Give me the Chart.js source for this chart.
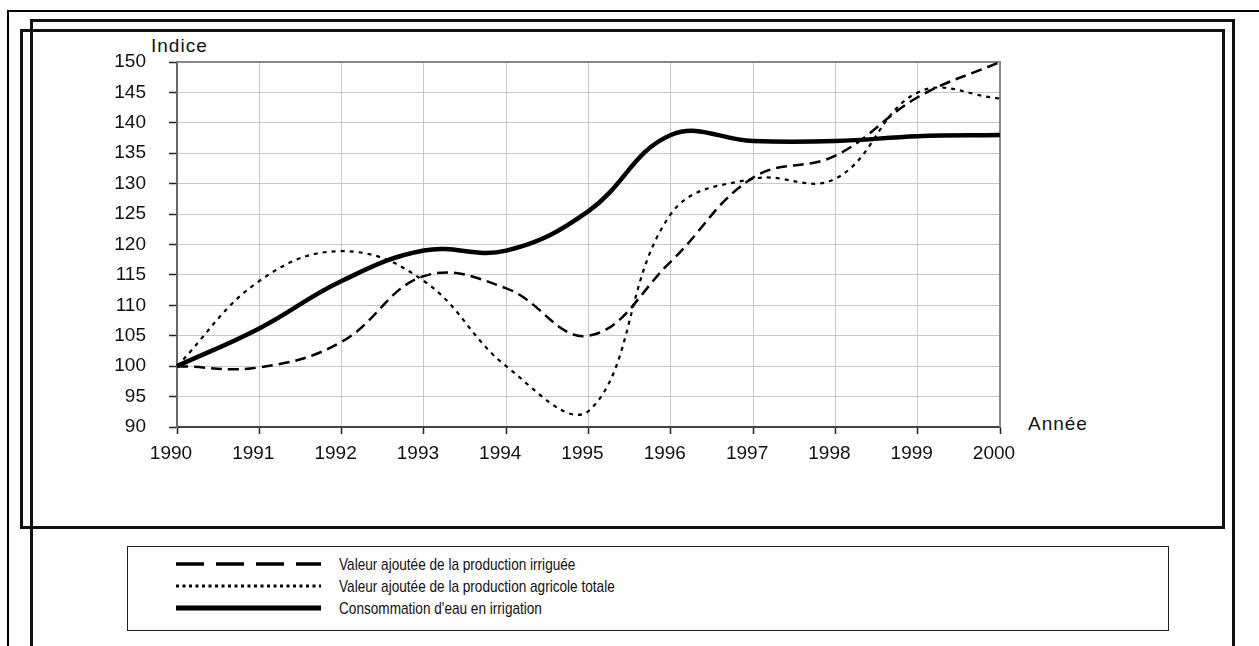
<!DOCTYPE html>
<html lang="fr">
<head>
  <meta charset="UTF-8" />
  <title>Indice - valeur ajoutée et consommation d'eau</title>
  <script src="https://cdn.jsdelivr.net/npm/chart.js"></script>
  <style>
    body { margin: 0; background: #fff; overflow: hidden; font-family: 'Liberation Sans', Arial, sans-serif; color: #111; }
    .line { position: absolute; background: #000; }
    .frame { position: absolute; border: 3px solid #111; box-sizing: border-box; }
    .txt { position: absolute; font-size: 19px; letter-spacing: 1px; white-space: nowrap; line-height: 1; }
    #legend { position: absolute; left: 127px; top: 546px; width: 1042px; height: 85px; border: 1.5px solid #222; box-sizing: border-box; }
    .row { position: absolute; left: 46px; height: 22px; }
    .row svg { position: absolute; left: 0; top: 0; }
    .row span { position: absolute; left: 165px; top: 2px; font-size: 17px; white-space: nowrap; transform: scaleX(0.8); transform-origin: left center; }
    #c { position: absolute; left: 0; top: 0; }
  </style>
</head>
<body>

<!-- frames round the chart -->
<div class="line" style="left:8px; top:10px; width:1251px; height:2px;"></div>
<div class="line" style="left:7px; top:10px; width:2px; height:636px;"></div>
<div class="frame" style="left:30px; top:19px; width:1205px; height:700px;"></div>
<div class="frame" style="left:20px; top:29px; width:1205px; height:500px;"></div>

<div class="txt" style="left:151px; top:36px;">Indice</div>
<div class="txt" style="left:1028px; top:414px;">Année</div>

<div id="legend">
  <div class="row" style="top:6px;">
    <svg width="150" height="22"><line x1="2" y1="11" x2="147" y2="11" stroke="#000" stroke-width="3.5" stroke-dasharray="28 12"/></svg>
    <span>Valeur ajoutée de la production irriguée</span>
  </div>
  <div class="row" style="top:28px;">
    <svg width="150" height="22"><line x1="2" y1="11" x2="147" y2="11" stroke="#000" stroke-width="3" stroke-dasharray="3 3.5"/></svg>
    <span>Valeur ajoutée de la production agricole totale</span>
  </div>
  <div class="row" style="top:50px;">
    <svg width="150" height="22"><line x1="2" y1="11" x2="147" y2="11" stroke="#000" stroke-width="5"/></svg>
    <span>Consommation d'eau en irrigation</span>
  </div>
</div>

<canvas id="c" width="1259" height="646"></canvas>

<script>
  const years = ['1990', '1991', '1992', '1993', '1994', '1995', '1996', '1997', '1998', '1999', '2000'];
  const irrigated = [100, 99.8, 104, 114.8, 112.8, 105, 117.2, 131, 134.6, 144.2, 150];
  const totalAgri = [100, 114, 118.9, 114, 100, 92.6, 125, 130.8, 130.8, 145, 144];
  const waterUse = [100, 106.2, 114, 119, 119, 125.5, 138, 137, 137, 137.8, 138];
  const yMin = 90, yMax = 150, yStep = 5;

  Chart.defaults.font.family = "'Liberation Sans', Arial, sans-serif";
  Chart.defaults.font.size = 19;
  Chart.defaults.color = '#111';

  // gray border on top and right of the plot area
  const plotBorder = {
    id: 'plotBorder',
    beforeDatasetsDraw(chart) {
      const a = chart.chartArea, ctx = chart.ctx;
      ctx.save();
      ctx.strokeStyle = '#888';
      ctx.lineWidth = 2;
      ctx.beginPath();
      ctx.moveTo(a.left, a.top);
      ctx.lineTo(a.right, a.top);
      ctx.lineTo(a.right, a.bottom);
      ctx.stroke();
      ctx.restore();
    }
  };

  new Chart(document.getElementById('c'), {
    type: 'line',
    data: {
      labels: years,
      datasets: [
        { label: 'Valeur ajoutée de la production irriguée', data: irrigated,
          borderColor: '#000', borderWidth: 2.5, borderDash: [11, 6], pointRadius: 0, tension: 0.4, fill: false },
        { label: 'Valeur ajoutée de la production agricole totale', data: totalAgri,
          borderColor: '#000', borderWidth: 2.2, borderDash: [4, 5], pointRadius: 0, tension: 0.4, fill: false },
        { label: "Consommation d'eau en irrigation", data: waterUse,
          borderColor: '#000', borderWidth: 4.5, pointRadius: 0, tension: 0.4, fill: false }
      ]
    },
    options: {
      responsive: false,
      animation: false,
      layout: { padding: { left: 0, top: 62, right: 259, bottom: 0 } },
      plugins: { legend: { display: false }, tooltip: { enabled: false } },
      scales: {
        x: {
          afterFit(s) { s.height = 219; },
          grid: { color: '#c8c8c8', lineWidth: 1, tickLength: 7, tickColor: '#222', tickWidth: 1.5 },
          border: { color: '#444', width: 2 },
          ticks: { padding: 8, labelOffset: -6, maxRotation: 0, autoSkip: false }
        },
        y: {
          min: yMin, max: yMax,
          afterFit(s) { s.width = 177; },
          grid: { color: '#c8c8c8', lineWidth: 1, tickLength: 8, tickColor: '#222', tickWidth: 1.5 },
          border: { color: '#666', width: 2 },
          ticks: { stepSize: yStep, padding: 23 }
        }
      }
    },
    plugins: [plotBorder]
  });
</script>
</body>
</html>
